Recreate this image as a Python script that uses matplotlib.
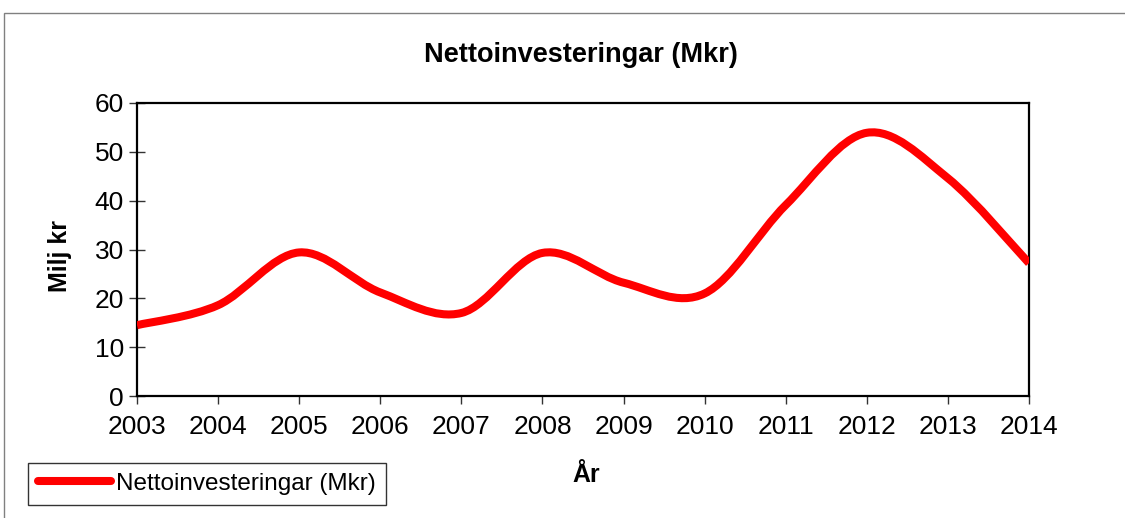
import numpy as np
import matplotlib
matplotlib.use('Agg')
import matplotlib.pyplot as plt
from matplotlib.path import Path
from matplotlib.patches import PathPatch, Rectangle
from matplotlib.lines import Line2D

plt.rcParams['font.family'] = ['Liberation Sans', 'DejaVu Sans']

years = ['2003', '2004', '2005', '2006', '2007', '2008',
         '2009', '2010', '2011', '2012', '2013', '2014']
values = [14.5, 18.6, 29.4, 21.2, 17.0, 29.3, 23.2, 21.0, 39.1, 53.9, 44.6, 27.2]
series_name = 'Nettoinvesteringar (Mkr)'
title = 'Nettoinvesteringar (Mkr)'
ylabel = 'Milj kr'
xlabel = 'År'
yticks = [0, 10, 20, 30, 40, 50, 60]

W, H = 1125, 518
fig = plt.figure(figsize=(W / 100, H / 100), dpi=100)
fig.patch.set_facecolor('white')

# outer chart-area border
fig.patches.append(Rectangle((4 / W, 0 - 0.05), 1.2, (H - 13) / H + 0.05,
                             transform=fig.transFigure, fill=False,
                             edgecolor='#808080', linewidth=1.0))

ax = fig.add_axes([137 / W, (H - 396) / H, (1029 - 137) / W, (396 - 103) / H])

x = np.arange(len(years), dtype=float)
y = np.array(values, dtype=float)

# Excel-like smoothed line (Catmull-Rom as cubic Bezier)
verts = [(x[0], y[0])]
codes = [Path.MOVETO]
n = len(x)
for i in range(n - 1):
    p0 = np.array([x[max(i - 1, 0)], y[max(i - 1, 0)]])
    p1 = np.array([x[i], y[i]])
    p2 = np.array([x[i + 1], y[i + 1]])
    p3 = np.array([x[min(i + 2, n - 1)], y[min(i + 2, n - 1)]])
    c1 = p1 + (p2 - p0) / 6.0
    c2 = p2 - (p3 - p1) / 6.0
    verts += [tuple(c1), tuple(c2), tuple(p2)]
    codes += [Path.CURVE4, Path.CURVE4, Path.CURVE4]
path = Path(verts, codes)
ax.add_patch(PathPatch(path, facecolor='none', edgecolor='#ff0000',
                       linewidth=5.8, capstyle='butt', joinstyle='round', zorder=3))

ax.set_xlim(0, n - 1)
ax.set_ylim(0, 60)
ax.set_xticks(x)
ax.set_xticklabels(years)
ax.set_yticks(yticks)

for s in ax.spines.values():
    s.set_color('black')
    s.set_linewidth(1.6)

ax.tick_params(axis='y', direction='inout', length=11, width=1.0,
               color='#333333', labelsize=19, pad=4)
ax.tick_params(axis='x', direction='out', length=6, width=1.0,
               color='#333333', labelsize=19, pad=8)

fig.text(581 / W, 1 - 55 / H, title, ha='center', va='center',
         fontsize=19.5, fontweight='bold')
fig.text(60 / W, 1 - 256 / H, ylabel, ha='center', va='center',
         rotation=90, fontsize=18, fontweight='bold')
fig.text(586 / W, 1 - 475 / H, xlabel, ha='center', va='center',
         fontsize=18, fontweight='bold')

handle = Line2D([], [], color='#ff0000', linewidth=5.8, solid_capstyle='round')
leg = fig.legend([handle], [series_name], loc='lower left',
                 bbox_to_anchor=(28 / W, (H - 505) / H),
                 fontsize=17.5, frameon=True, fancybox=False, shadow=False,
                 borderaxespad=0, borderpad=0.42, handlelength=3.0,
                 handletextpad=0.2)
leg.get_frame().set_edgecolor('black')
leg.get_frame().set_linewidth(1.0)

fig.savefig('out.png', dpi=100, facecolor='white')
